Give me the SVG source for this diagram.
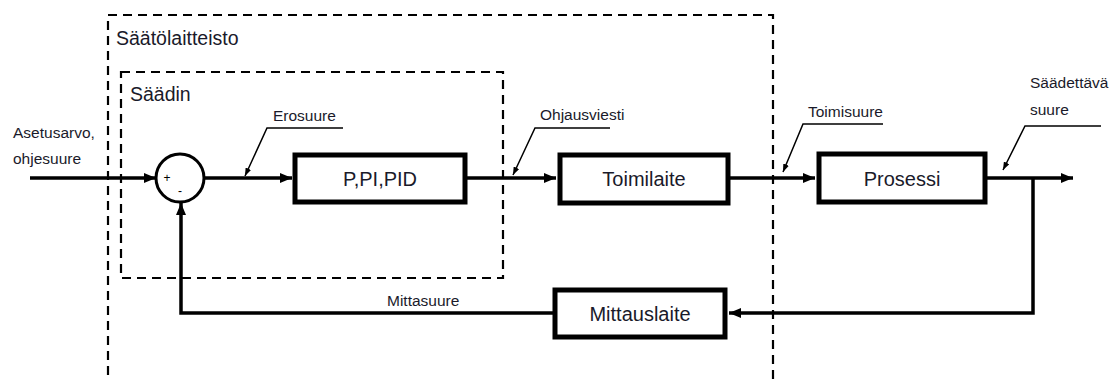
<svg xmlns="http://www.w3.org/2000/svg" width="1112" height="380" viewBox="0 0 1112 380">
  <defs>
    <marker id="arrow" viewBox="0 0 12 10" refX="12" refY="5" markerWidth="12" markerHeight="10" markerUnits="userSpaceOnUse" orient="auto">
      <path d="M0,0 L12,5 L0,10 Z" fill="#000"/>
    </marker>
    <marker id="tip" viewBox="0 0 8 6" refX="8" refY="3" markerWidth="8" markerHeight="6" markerUnits="userSpaceOnUse" orient="auto">
      <path d="M0,0 L8,3 L0,6 Z" fill="#000"/>
    </marker>
    <style>
      .frame { fill: none; stroke: #000; stroke-width: 2.2; stroke-dasharray: 9 6; }
      .block rect { fill: #fff; stroke: #000; stroke-width: 5; }
      .block text { font-family: "Liberation Sans", Arial, sans-serif; font-size: 20px; fill: #1a1a2a; text-anchor: middle; }
      .wire { fill: none; stroke: #000; stroke-width: 3.5; }
      .leader { fill: none; stroke: #000; stroke-width: 1.5; }
      .label { font-family: "Liberation Sans", Arial, sans-serif; font-size: 15.5px; fill: #1a1a2a; }
      .title { font-family: "Liberation Sans", Arial, sans-serif; font-size: 19.5px; fill: #1a1a2a; }
      .sign { font-family: "Liberation Sans", Arial, sans-serif; font-size: 12px; fill: #000; text-anchor: middle; }
    </style>
  </defs>
  <rect width="1112" height="380" fill="#fff"/>

  <!-- Equipment boundaries -->
  <g id="saatolaitteisto">
    <rect class="frame" x="108" y="15" width="665" height="400"/>
    <text class="title" x="116" y="45">Säätölaitteisto</text>
  </g>
  <g id="saadin">
    <rect class="frame" x="121" y="72" width="382" height="206"/>
    <text class="title" x="130" y="101">Säädin</text>
  </g>

  <!-- Signal paths -->
  <g id="connectors">
    <line class="wire" x1="30" y1="178" x2="156" y2="178" marker-end="url(#arrow)"/>
    <line class="wire" x1="204" y1="178" x2="292" y2="178" marker-end="url(#arrow)"/>
    <line class="wire" x1="467" y1="178" x2="556" y2="178" marker-end="url(#arrow)"/>
    <line class="wire" x1="730" y1="178" x2="815" y2="178" marker-end="url(#arrow)"/>
    <line class="wire" x1="986" y1="178" x2="1073" y2="178" marker-end="url(#arrow)"/>
    <polyline class="wire" points="1033,178 1033,313 729,313" marker-end="url(#arrow)"/>
    <polyline class="wire" points="553,313 181,313 181,203" marker-end="url(#arrow)"/>

    <polyline class="leader" points="343,128 267,128 245,176" marker-end="url(#tip)"/>
    <polyline class="leader" points="610,128 535,128 513,175" marker-end="url(#tip)"/>
    <polyline class="leader" points="883,124 803,124 783,172" marker-end="url(#tip)"/>
    <polyline class="leader" points="1101,126 1025,126 1003,170" marker-end="url(#tip)"/>
  </g>

  <!-- Signal names -->
  <g id="signal-labels">
    <text class="label" x="13" y="138">Asetusarvo,</text>
    <text class="label" x="13" y="164">ohjesuure</text>
    <text class="label" x="273" y="121">Erosuure</text>
    <text class="label" x="540" y="120">Ohjausviesti</text>
    <text class="label" x="808" y="117">Toimisuure</text>
    <text class="label" x="1030" y="88">Säädettävä</text>
    <text class="label" x="1030" y="115">suure</text>
    <text class="label" x="387" y="306">Mittasuure</text>
  </g>

  <!-- Comparator -->
  <g id="summing-junction">
    <circle cx="180" cy="178" r="24" fill="#fff" stroke="#000" stroke-width="3"/>
    <text class="sign" x="167" y="182">+</text>
    <text class="sign" x="180" y="195">-</text>
  </g>

  <g id="pid" class="block">
    <rect x="295" y="155" width="170" height="47"/>
    <text x="380" y="186">P,PI,PID</text>
  </g>
  <g id="toimilaite" class="block">
    <rect x="560" y="155" width="168" height="48"/>
    <text x="644" y="186">Toimilaite</text>
  </g>
  <g id="prosessi" class="block">
    <rect x="819" y="154" width="166" height="48"/>
    <text x="902" y="186">Prosessi</text>
  </g>
  <g id="mittauslaite" class="block">
    <rect x="555" y="290" width="170" height="47"/>
    <text x="640" y="321">Mittauslaite</text>
  </g>
</svg>
